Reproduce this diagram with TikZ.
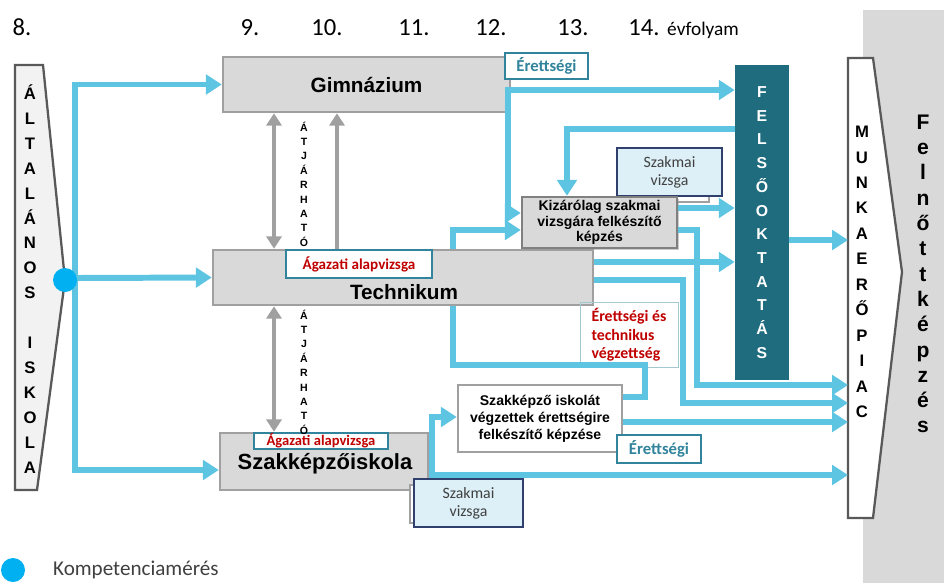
\documentclass[tikz,border=0pt]{standalone}
\usepackage{fontspec}
\setmainfont{Liberation Sans}
\newfontfamily\calibri{Carlito}
\usetikzlibrary{arrows.meta,shadows}

\definecolor{flowblue}{RGB}{93,196,226}
\definecolor{dotblue}{RGB}{0,176,240}
\definecolor{boxgray}{RGB}{217,217,217}
\definecolor{edgegray}{RGB}{160,160,160}
\definecolor{framegray}{RGB}{89,89,89}
\definecolor{felsoteal}{RGB}{31,108,126}
\definecolor{tagteal}{RGB}{49,132,155}
\definecolor{examred}{RGB}{192,0,0}
\definecolor{examfill}{RGB}{221,240,247}
\definecolor{examedge}{RGB}{47,64,110}
\definecolor{textgray}{RGB}{64,64,64}

\newcommand{\pxu}{0.02cm}

\begin{document}
\begin{tikzpicture}[x=0.02cm,y=-0.02cm,
  flowtip/.tip={Triangle[length=9pt,width=11pt]},
  passtip/.tip={Triangle[length=7pt,width=8.5pt]},
  flow/.style={draw=flowblue,line width=3.4pt,-flowtip},
  flowline/.style={draw=flowblue,line width=3.4pt},
  pass/.style={draw=edgegray,line width=2.8pt},
  schoolbox/.style={draw=edgegray,line width=1.4pt,fill=boxgray,inner sep=0pt},
  schooltext/.style={font=\fontsize{11.8}{13}\selectfont\bfseries},
  tag/.style={draw=tagteal,line width=0.6pt,fill=white,inner sep=0pt},
  agtag/.style={tag,text=examred,font=\calibri\bfseries\fontsize{8.6}{10}\selectfont},
  erettag/.style={tag,text=tagteal,font=\calibri\bfseries\fontsize{9.5}{11}\selectfont},
  examtag/.style={draw=examedge,line width=0.8pt,fill=examfill,inner sep=0pt,align=center,
    text=textgray,font=\calibri\fontsize{9}{10.4}\selectfont},
  examback/.style={draw=edgegray,line width=0.6pt,fill=white,inner sep=0pt},
  stack/.style={align=center,inner sep=0pt},
  year/.style={anchor=base,font=\calibri\fontsize{14}{16}\selectfont}]
%\draw[step=50,gray,very thin] (0,0) grid (944,583);

\useasboundingbox (0,0) rectangle (944,583);

\fill[boxgray] (863,10) rectangle (944,583);

\node[year] (y8) at (22,35) {8.};
\node[year] (y9) at (250,35) {9.};
\node[year] (y10) at (327,35) {10.};
\node[year] (y11) at (414,35) {11.};
\node[year] (y12) at (491,35) {12.};
\node[year] (y13) at (573,35) {13.};
\node[year] (y14) at (644,35) {14.};
\node[anchor=base west,font=\calibri\fontsize{11}{13}\selectfont] (evf) at (661,35) {évfolyam};

\draw[draw=framegray,line width=1.3pt,fill=black!5] (15,65) -- (43,65) -- (65,280) -- (37,490) -- (15,490) -- cycle;
\node[stack,font={\fontsize{9.5}{14.2}\selectfont\bfseries}] (alt) at (30,279)
  {Á\\L\\T\\A\\L\\Á\\N\\O\\S\\~\\I\\S\\K\\O\\L\\A};

\draw[draw=framegray,line width=1.3pt,fill=white] (848,58) -- (873,58) -- (902,272) -- (873,518) -- (848,518) -- cycle;
\coordinate (munka) at (848,272);
\node[stack,font={\fontsize{9.5}{14.5}\selectfont\bfseries}] (munkatxt) at (862,272)
  {M\\U\\N\\K\\A\\E\\R\\Ő\\P\\I\\A\\C};
\node[stack,font={\fontsize{12}{14.4}\selectfont\bfseries}] (felnott) at (923,274)
  {F\\e\\l\\n\\ő\\t\\t\\k\\é\\p\\z\\é\\s};

\node[fill=felsoteal,minimum width=54*\pxu,minimum height=315*\pxu,stack,text=white,
  font={\fontsize{9}{13.5}\selectfont\bfseries}] (felso) at (762,222.5)
  {F\\E\\L\\S\\Ő\\O\\K\\T\\A\\T\\Á\\S};

\node[schoolbox,schooltext,minimum width=287*\pxu,minimum height=55*\pxu] (gimn) at (366.5,84.5) {Gimnázium};
\node[erettag,minimum width=83*\pxu,minimum height=26*\pxu] (erett1) at (546.5,66) {Érettségi};

\node[schoolbox,minimum width=380*\pxu,minimum height=55*\pxu] (tech) at (403,277.5) {};
\node[schooltext] (techlbl) at (404,292) {Technikum};
\node[agtag,minimum width=146*\pxu,minimum height=28*\pxu] (agtech) at (359,264) {Ágazati alapvizsga};

\node[schoolbox,minimum width=208*\pxu,minimum height=57*\pxu] (szak) at (324,461.5) {};
\node[font=\fontsize{12.5}{14}\selectfont\bfseries] (szaklbl) at (325,464) {Szakképzőiskola};
\node[agtag,font=\calibri\bfseries\fontsize{8.3}{9}\selectfont,minimum width=134*\pxu,minimum height=16*\pxu] (agszak) at (321,441) {Ágazati alapvizsga};

\node[examback,minimum width=80*\pxu,minimum height=42*\pxu] (szv1back) at (669,181) {};
\node[examtag,minimum width=105*\pxu,minimum height=48*\pxu] (szv1) at (669.5,172) {Szakmai\\vizsga};

\node[schoolbox,draw=gray,drop shadow={shadow xshift=1.3pt,shadow yshift=-1.3pt,fill=gray!80},
  minimum width=155*\pxu,minimum height=51*\pxu,align=center,
  font=\fontsize{8}{8.9}\selectfont\bfseries] (kiz) at (599.5,222.5)
  {Kizárólag szakmai\\vizsgára felkészítő\\képzés};

\node[draw=tagteal!45,line width=0.5pt,minimum width=98*\pxu,minimum height=64*\pxu,align=left,
  text=examred,font=\calibri\bfseries\fontsize{9}{10.5}\selectfont] (etv) at (629,335)
  {Érettségi és\\technikus\\végzettség};

\node[schoolbox,fill=white,minimum width=164*\pxu,minimum height=67*\pxu,align=center,
  font=\fontsize{8}{9.6}\selectfont\bfseries] (szki) at (540,418.5)
  {Szakképző iskolát\\végzettek érettségire\\felkészítő képzése};
\node[erettag,minimum width=84*\pxu,minimum height=28*\pxu] (erett2) at (659,449) {Érettségi};

\node[examback,minimum width=90*\pxu,minimum height=38*\pxu] (szv2back) at (455,504) {};
\node[examtag,minimum width=109*\pxu,minimum height=48*\pxu] (szv2) at (468.5,503) {Szakmai\\vizsga};

% atjarhato
\draw[pass,passtip-passtip] (gimn.south -| 274,0) -- (tech.north -| 274,0);
\draw[pass,-passtip] (tech.north -| 337,0) -- (gimn.south -| 337,0);
\draw[pass,passtip-passtip] (tech.south -| 274,0) -- (szak.north -| 274,0);
\node[stack,font={\fontsize{6}{8.2}\selectfont\bfseries}] (atj1) at (304,184) {Á\\T\\J\\Á\\R\\H\\A\\T\\Ó};
\node[stack,font={\fontsize{6}{8.2}\selectfont\bfseries}] (atj2) at (304,372) {Á\\T\\J\\Á\\R\\H\\A\\T\\Ó};

% from primary school
\coordinate (split) at (75,278);
\draw[flow] (split) |- (gimn.west);
\draw[flow] (split) -- (tech.west);
\draw[flow] (split) |- (szak.west |- 0,470);

\draw[flow] (gimn.east |- 0,90) -- (felso.west |- 0,90);
\draw[flow] (gimn.east |- 0,90) -| (508,213) -- (kiz.west |- 0,213);
\draw[flow] (felso.west |- 0,129) -| (kiz.north -| 567,0);
\draw[flow] (kiz.east |- 0,208) -- (felso.west |- 0,208);
\draw[flow] (kiz.east |- 0,230) -| (697,385) -- (munka |- 0,385);

\draw[flow] (tech.north -| 453,0) |- (kiz.west |- 0,230);
\draw[flowline] (tech.south -| 453,0) |- (645,365) |- (szki.east |- 0,397);
\draw[flow] (tech.east |- 0,262) -- (felso.west |- 0,262);
\draw[flow] (tech.east |- 0,280) -| (683,403) -- (munka |- 0,403);

\draw[flow] (szki.east |- 0,422) -- (munka |- 0,422);
\coordinate (szakout) at (432,475);
\draw[flow] (szak.east |- szakout) -- (szakout) |- (szki.west |- 0,417);
\draw[flow] (szakout) -- (munka |- szakout);

\draw[flow] (felso.east |- 0,240) -- (munka |- 0,240);

\node[circle,fill=dotblue,minimum size=24*\pxu,inner sep=0pt] (komp) at (65,280) {};

% legend
\node[circle,fill=dotblue,minimum size=24*\pxu,inner sep=0pt] (legdot) at (13,570) {};
\node[anchor=west,text=textgray,font=\calibri\fontsize{12}{14}\selectfont] (legtxt) at (47,570) {Kompetenciamérés};

\end{tikzpicture}
\end{document}
